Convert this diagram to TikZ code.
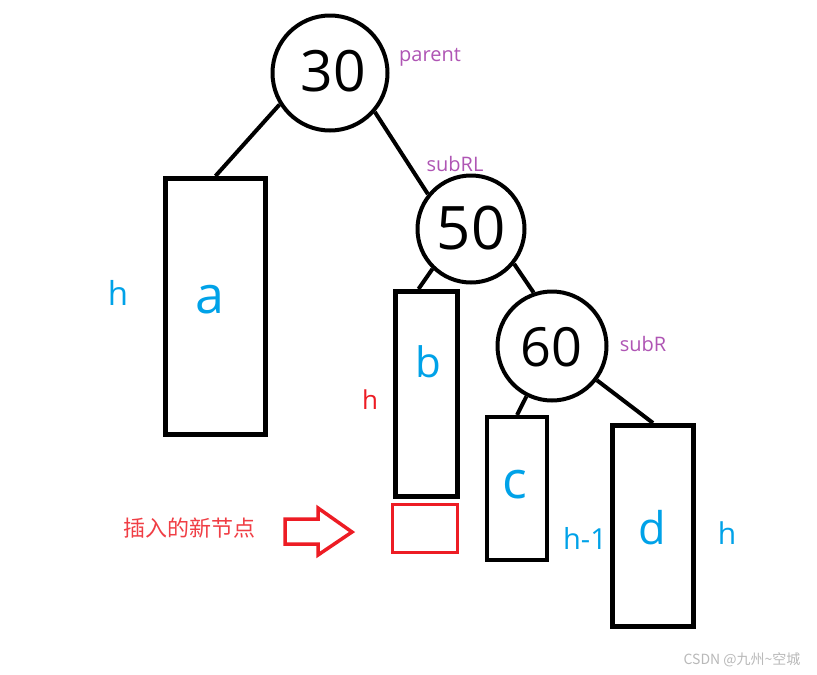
\documentclass[tikz,border=0pt]{standalone}
\usepackage{fontspec}
\setmainfont{Open Sans}
\newfontfamily\cjk{Noto Sans CJK SC}
\definecolor{myblue}{RGB}{0,162,232}
\definecolor{mypurple}{RGB}{175,85,180}
\definecolor{myred}{RGB}{237,28,36}
\definecolor{mygray}{RGB}{185,185,185}
\begin{document}
\begin{tikzpicture}[x=1pt,y=-1pt,
  treenode/.style={draw=black,circle,line width=4pt,inner sep=0pt,font=\fontsize{56}{60}\selectfont},
  subtree/.style={draw=black,rectangle,line width=5pt,inner sep=0pt},
  edge/.style={line width=4pt},
  lbl/.style={text=myblue,inner sep=0pt},
  tag/.style={text=mypurple,inner sep=0pt,font=\fontsize{20}{22}\selectfont}]
\useasboundingbox (0,0) rectangle (817,675);
\fill[white] (0,0) rectangle (817,675);
% tree nodes
\node[treenode,minimum size=115pt] (n30) at (330,73) {};
\node[inner sep=0pt,font=\fontsize{57}{60}\selectfont] (t30) at (333,71) {30};
\node[treenode,minimum size=107pt] (n50) at (471,229) {};
\node[inner sep=0pt,font=\fontsize{60}{62}\selectfont] (t50) at (471,228) {50};
\node[treenode,minimum size=109pt] (n60) at (552,346) {};
\node[inner sep=0pt,font=\fontsize{54}{58}\selectfont] (t60) at (551,347) {60};
% subtrees
\node[subtree,minimum width=100pt,minimum height=256pt] (a) at (215.5,306.5) {};
\node[subtree,minimum width=62pt,minimum height=205pt] (b) at (426.5,394) {};
\node[subtree,line width=4pt,minimum width=60pt,minimum height=143pt] (c) at (517,488.5) {};
\node[subtree,minimum width=81pt,minimum height=201pt] (d) at (653,526) {};
\node[draw=myred,line width=3pt,rectangle,inner sep=0pt,minimum width=65pt,minimum height=48pt] (new) at (425,528.5) {};
% connectors
\draw[edge] (n30.212) -- (a.north);
\draw[edge] (n30.-41) -- (n50.141);
\draw[edge] (n50.226) -- ([xshift=-8pt]b.north);
\draw[edge] (n50.-39) -- (n60.109);
\draw[edge] (n60) -- (c.north);
\draw[edge] (n60) -- (d.north);
% letters
\node[lbl,font=\fontsize{52}{56}\selectfont] (la) at (210,300) {a};
\node[lbl,font=\fontsize{42}{46}\selectfont] (lb) at (428,362) {b};
\node[lbl,font=\fontsize{52}{56}\selectfont] (lc) at (515,485) {c};
\node[lbl,font=\fontsize{45}{48}\selectfont] (ld) at (652,528) {d};
\node[lbl,font=\fontsize{33}{36}\selectfont] (h1) at (118,293) {h};
\node[text=myred,inner sep=0pt,font=\fontsize{26}{28}\selectfont] (h2) at (370,400) {h};
\node[lbl,font=\fontsize{29}{32}\selectfont] (h3) at (585,538) {h-1};
\node[lbl,font=\fontsize{30}{32}\selectfont] (h4) at (727,533) {h};
% tags
\node[tag] (parent) at (430,57) {parent};
\node[tag] (subRL) at (455,164) {subRL};
\node[tag] (subR) at (643,344) {subR};
% inserted node label and arrow
\node[text=myred!85,inner sep=0pt,font=\cjk\fontsize{22}{24}\selectfont] (ins) at (189,528) {插入的新节点};
\draw[myred,line width=3.5pt,line join=miter]
  (285,519) -- (318,519) -- (318,508) -- (352,532) -- (318,555) -- (318,544) -- (285,544) -- cycle;
% watermark
\node[text=mygray,inner sep=0pt,font=\cjk\fontsize{14}{16}\selectfont] (wm) at (742,660) {CSDN @九州\textasciitilde 空城};
\end{tikzpicture}
\end{document}
